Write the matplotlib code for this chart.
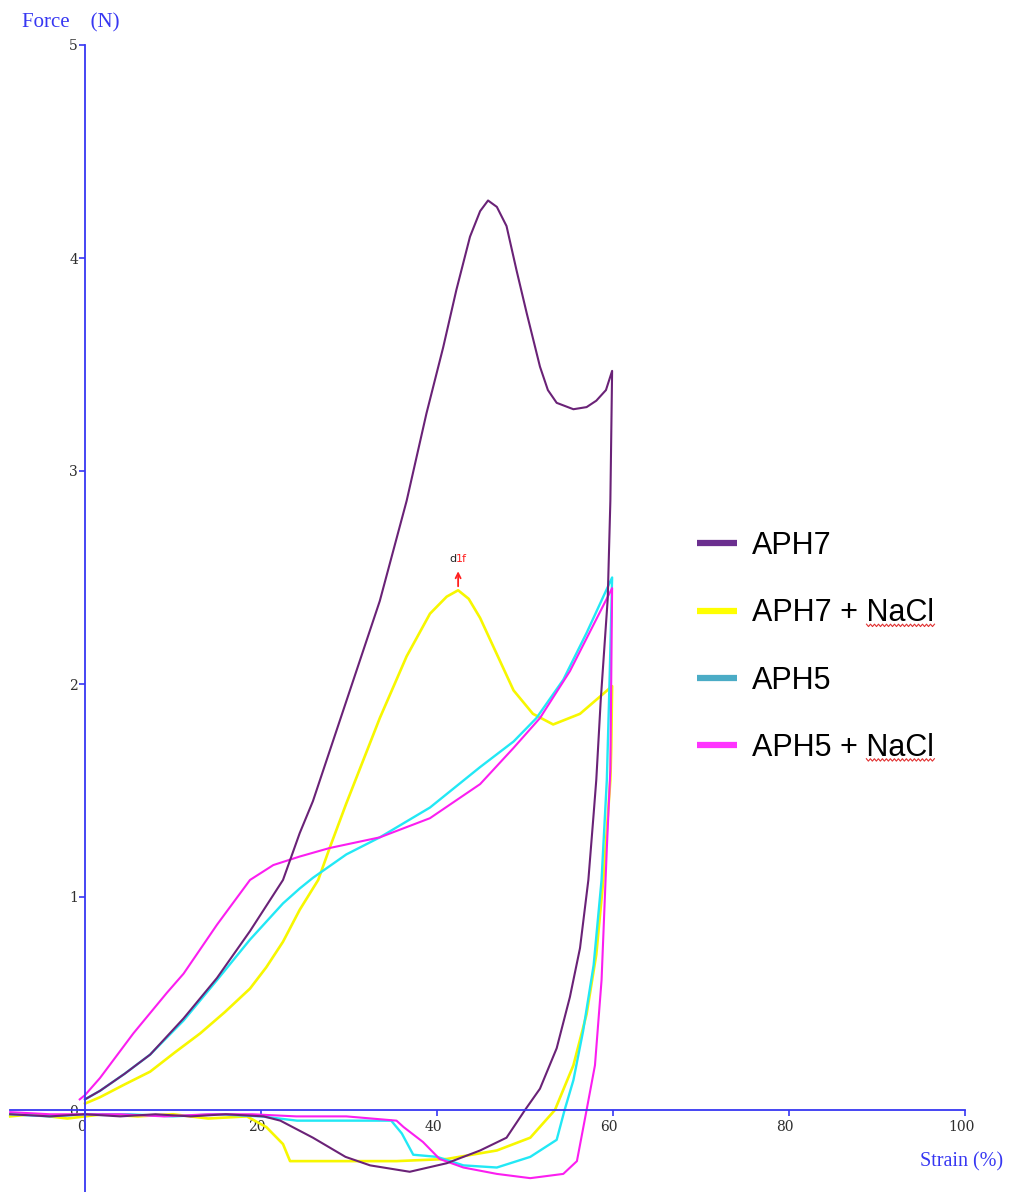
import numpy as np
import matplotlib
matplotlib.use("Agg")
import matplotlib.pyplot as plt
from matplotlib.lines import Line2D
from matplotlib.transforms import offset_copy, ScaledTranslation

# strain (%) / force (N): loading to 60 %, then unloading back
aph7_strain = [0, 1.7, 4.5, 7.4, 11.2, 15.0, 18.75, 22.5, 24.4, 25.9, 29.7, 33.5, 36.55,
               38.8, 40.7, 42.2, 43.75, 44.9, 45.8, 46.8, 47.9, 49.05, 50.2, 51.7, 52.6,
               53.6, 55.5, 57.0, 58.1, 59.2, 59.9,
               59.7, 59.4, 58.6, 58.1, 57.8, 57.2, 56.25, 55.1, 53.6, 51.7, 50.0, 47.9,
               44.9, 41.1, 36.9, 32.4, 29.6, 25.9, 22.2, 20.3, 16.0, 12.0, 8.0, 4.0, 0.0,
               -4.0, -8.5]
aph7_force = [0.05, 0.09, 0.17, 0.26, 0.43, 0.62, 0.84, 1.08, 1.30, 1.45, 1.92, 2.39, 2.86,
              3.27, 3.58, 3.85, 4.10, 4.22, 4.27, 4.24, 4.15, 3.94, 3.74, 3.49, 3.38,
              3.32, 3.29, 3.30, 3.33, 3.38, 3.47,
              2.86, 2.40, 1.92, 1.55, 1.39, 1.08, 0.76, 0.53, 0.29, 0.10, 0.00, -0.13,
              -0.19, -0.25, -0.29, -0.26, -0.22, -0.13, -0.05, -0.03, -0.02, -0.03, -0.02,
              -0.03, -0.02, -0.03, -0.02]

aph7_nacl_strain = [0, 1.7, 4.5, 7.4, 10.2, 13.1, 15.9, 18.75, 20.6, 22.5, 24.4, 26.5, 27.8,
                    29.7, 33.5, 36.55, 39.2, 41.1, 42.4, 43.6, 44.9, 46.8, 48.7, 50.9, 53.2,
                    56.25, 58.5, 59.9,
                    59.8, 59.7, 58.9, 58.1, 57.0, 55.5, 53.4, 50.6, 46.8, 41.1, 35.4, 29.0,
                    23.3, 22.5, 20.6, 18.4, 14.0, 10.0, 6.0, 2.0, -2.0, -6.0, -8.5]
aph7_nacl_force = [0.03, 0.06, 0.12, 0.18, 0.27, 0.36, 0.46, 0.57, 0.67, 0.79, 0.94, 1.08, 1.23,
                   1.44, 1.84, 2.13, 2.33, 2.41, 2.44, 2.40, 2.31, 2.14, 1.97, 1.86, 1.81,
                   1.86, 1.94, 1.99,
                   1.70, 1.55, 1.08, 0.73, 0.45, 0.21, 0.00, -0.13, -0.19, -0.23, -0.24, -0.24,
                   -0.24, -0.16, -0.08, -0.03, -0.04, -0.02, -0.03, -0.02, -0.04, -0.02, -0.03]

aph5_strain = [0, 1.7, 4.5, 7.4, 11.2, 15.0, 18.75, 22.5, 24.4, 25.9, 29.7, 33.5, 39.2, 44.9,
               48.7, 51.3, 54.35, 57.0, 59.9,
               59.6, 59.3, 58.7, 57.8, 56.6, 55.5, 54.5, 53.6, 50.6, 46.8, 43.0, 40.0, 37.3,
               36.0, 34.8, 30.0, 24.1, 20.0, 15.0, 10.0, 5.0, 0.0, -4.0, -8.5]
aph5_force = [0.05, 0.09, 0.17, 0.26, 0.42, 0.61, 0.80, 0.97, 1.04, 1.09, 1.20, 1.28, 1.42, 1.61,
              1.73, 1.84, 2.02, 2.24, 2.50,
              2.00, 1.55, 1.08, 0.68, 0.37, 0.14, 0.00, -0.14, -0.22, -0.27, -0.26, -0.22, -0.21,
              -0.11, -0.05, -0.05, -0.05, -0.03, -0.02, -0.03, -0.02, -0.02, -0.03, -0.02]

aph5_nacl_strain = [-0.6, 0, 1.7, 5.5, 9.3, 11.2, 15.0, 18.75, 21.4, 24.4, 27.8, 33.5, 39.2,
                    44.9, 48.7, 51.7, 55.1, 59.9,
                    59.7, 59.3, 58.7, 57.95, 57.0, 55.9, 54.35, 50.6, 46.8, 43.0, 40.3, 38.4,
                    36.2, 35.4, 29.7, 24.0, 19.0, 14.0, 9.0, 4.0, 0.0, -4.0, -8.5]
aph5_nacl_force = [0.05, 0.07, 0.15, 0.36, 0.55, 0.64, 0.87, 1.08, 1.15, 1.19, 1.23, 1.28, 1.37,
                   1.53, 1.70, 1.84, 2.06, 2.45,
                   1.60, 1.23, 0.61, 0.21, 0.00, -0.24, -0.30, -0.32, -0.30, -0.27, -0.23, -0.15,
                   -0.08, -0.05, -0.03, -0.03, -0.02, -0.02, -0.03, -0.02, -0.02, -0.02, -0.01]

labels = ["APH7", "APH7 + NaCl", "APH5", "APH5 + NaCl"]
line_colors = ["#6a2277", "#f7f700", "#22e8f5", "#fb1ef0"]
legend_colors = ["#6b2f8f", "#ffff00", "#4bacc6", "#ff33ff"]

x_ticks = [0, 20, 40, 60, 80, 100]
y_ticks = [0, 1, 2, 3, 4, 5]

AXIS_BLUE = "#3737f2"
W, H = 1009, 1192

fig = plt.figure(figsize=(W / 100, H / 100), dpi=100)
ax = fig.add_axes([0, 0, 1, 1])
ax.set_xlim(-85 / 8.8, (W - 85) / 8.8)
ax.set_ylim(-82 / 213, 1110 / 213)
ax.patch.set_visible(False)

for s in ("top", "right"):
    ax.spines[s].set_visible(False)
ax.spines["bottom"].set_position(("data", 0))
ax.spines["left"].set_position(("data", 0))
ax.spines["bottom"].set_bounds(-8.5, 100)
ax.spines["left"].set_bounds(ax.get_ylim()[0], 5)
for s in ("bottom", "left"):
    ax.spines[s].set_color(AXIS_BLUE)
    ax.spines[s].set_linewidth(1.3)

ax.set_xticks(x_ticks)
ax.set_yticks(y_ticks)
ax.tick_params(direction="out", length=4, width=1.2, color=AXIS_BLUE,
               labelcolor="#2e2e2e", labelsize=10)
ax.tick_params(axis="x", pad=3)
ax.tick_params(axis="y", pad=1)
for lab in ax.get_xticklabels() + ax.get_yticklabels():
    lab.set_fontfamily("DejaVu Serif")
for lab in ax.get_xticklabels():
    lab.set_transform(lab.get_transform() + ScaledTranslation(-0.04, 0, fig.dpi_scale_trans))

series = [
    (aph7_nacl_strain, aph7_nacl_force, line_colors[1], 1.9),
    (aph5_strain, aph5_force, line_colors[2], 1.7),
    (aph5_nacl_strain, aph5_nacl_force, line_colors[3], 1.5),
    (aph7_strain, aph7_force, line_colors[0], 1.5),
]
for xs, ys, c, lw in series:
    ax.plot(xs, ys, color=c, lw=lw, solid_joinstyle="round")

# d1f marker above the yellow peak
pk = int(np.argmax(aph7_nacl_force))
px, py = aph7_nacl_strain[pk], aph7_nacl_force[pk]
ax.annotate("", xy=(px, py), xycoords=offset_copy(ax.transData, fig=fig, y=19, units="dots"),
            xytext=(px, py), textcoords=offset_copy(ax.transData, fig=fig, y=4, units="dots"),
            arrowprops=dict(arrowstyle="->", color="#ff2020", lw=1.3, shrinkA=0, shrinkB=0,
                            mutation_scale=9))
ax.text(px, py, "d", color="#222222", fontsize=8, ha="right", va="center",
        transform=offset_copy(ax.transData, fig=fig, x=-2, y=31, units="dots"))
ax.text(px, py, "1f", color="#ff2020", fontsize=8, ha="left", va="center",
        transform=offset_copy(ax.transData, fig=fig, x=-2, y=31, units="dots"))

# axis titles
fig.text(22 / W, 1 - 23 / H, "Force    (N)", color=AXIS_BLUE, fontsize=15,
         family="Liberation Serif", ha="left", va="center")
fig.text(1003 / W, 1 - 1162 / H, "Strain (%)", color=AXIS_BLUE, fontsize=14.5,
         family="Liberation Serif", ha="right", va="center")

handles = [Line2D([], [], color=c, lw=4.5, solid_capstyle="butt") for c in legend_colors]
leg = fig.legend(handles, labels, loc="center left", bbox_to_anchor=(697 / W, 1 - 647 / H),
                 frameon=False, prop={"family": "Liberation Sans", "size": 22},
                 handlelength=1.3, handletextpad=0.5, labelspacing=1.22,
                 borderpad=0, borderaxespad=0)

# red spell-check squiggle under "NaCl"
fig.canvas.draw()
renderer = fig.canvas.get_renderer()
probe = fig.text(0, 0, "NaCl", family="Liberation Sans", fontsize=22)
w_nacl = probe.get_window_extent(renderer).width
probe.remove()
for t in leg.get_texts():
    if "NaCl" in t.get_text():
        bb = t.get_window_extent(renderer)
        xs = np.arange(bb.x1 - w_nacl, bb.x1 + 1, 2.0)
        ys = bb.y0 + 3 + np.where(np.arange(len(xs)) % 2 == 0, 1.2, -1.2)
        fig.add_artist(Line2D(xs / W, ys / H, color="#e03030", lw=0.8,
                              transform=fig.transFigure))

fig.savefig("out.png", dpi=100, facecolor="white")
